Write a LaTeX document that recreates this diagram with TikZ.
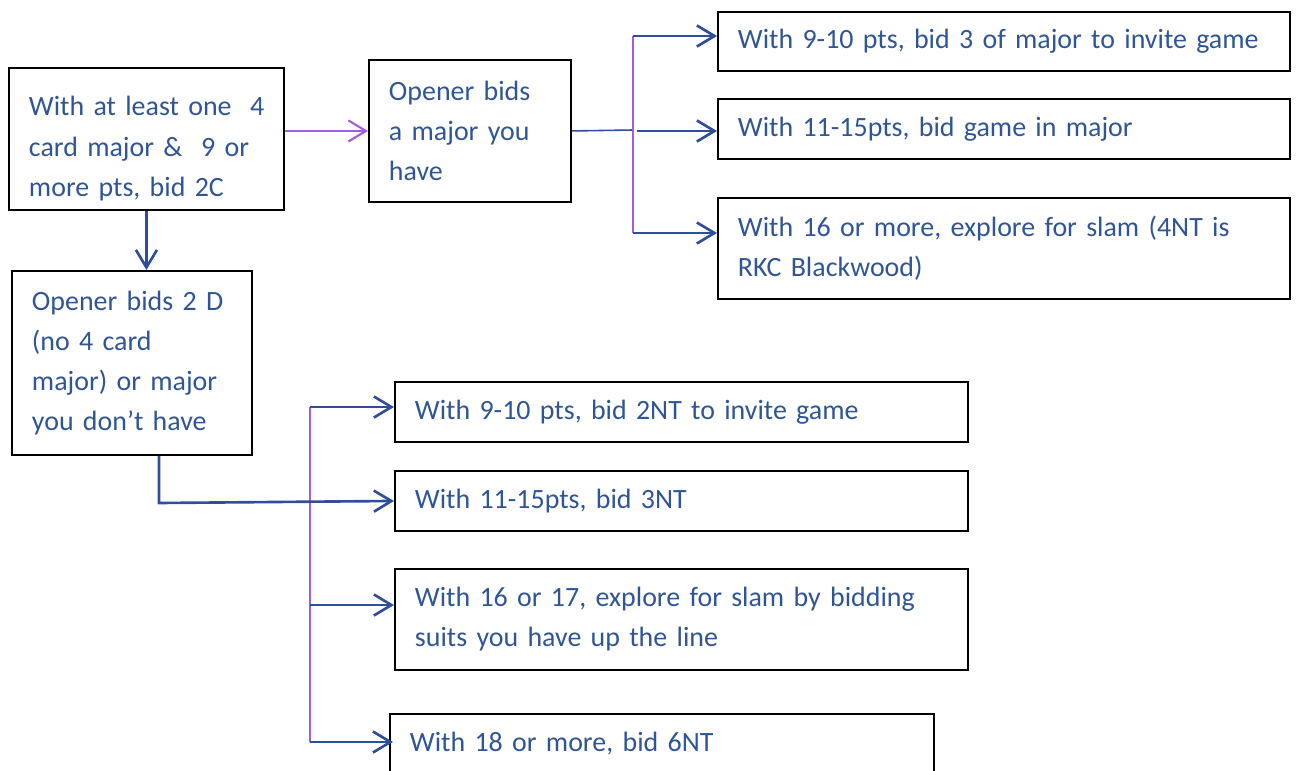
\documentclass[tikz,border=0pt]{standalone}
\usepackage{fontspec}
\setmainfont{Carlito}
\usetikzlibrary{arrows.meta}

\definecolor{ink}{HTML}{2F5597}
\definecolor{wire}{HTML}{2E4D9B}
\definecolor{lilac}{HTML}{A35CE0}

\begin{document}
\begin{tikzpicture}[x=0.02cm,y=-0.02cm,>={Straight Barb[length=10pt,width=12pt]},
  box/.style={draw,line width=1.1pt,anchor=north west,inner xsep=0.4cm,align=left,
    text=ink,font=\fontsize{15.9}{22.8}\selectfont},
  link/.style={draw=wire,line width=1.5pt},
  spine/.style={draw=lilac,line width=1.2pt}]
  \clip (0,0) rectangle (1296,771);

  \node[box,text width=4.7cm,minimum height=2.84cm,text height=0.45cm,text depth=1.37cm]
    (askclub) at (8,67) {\mbox{With at least one\ \ 4}\\\mbox{card major \&\ \ 9 or}\\more pts, bid 2C};
  \node[box,text width=3.24cm,minimum height=2.84cm]
    (majorfit) at (368,59) {Opener bids\\a major you\\have};
  \node[box,text width=10.64cm,minimum height=1.18cm]
    (invite) at (717,11) {With 9-10 pts, bid 3 of major to invite game};
  \node[box,text width=10.64cm,minimum height=1.2cm]
    (majgame) at (717,98) {With 11-15pts, bid game in major};
  \node[box,text width=10.64cm,minimum height=2.02cm]
    (majslam) at (717,197) {With 16 or more, explore for slam (4NT is\\RKC Blackwood)};
  \node[box,text width=4.0cm,minimum height=3.68cm]
    (nofit) at (11,270) {Opener bids 2 D\\(no 4 card\\major) or major\\you don’t have};
  \node[box,text width=10.66cm,minimum height=1.2cm]
    (ntinvite) at (394,381) {With 9-10 pts, bid 2NT to invite game};
  \node[box,text width=10.66cm,minimum height=1.2cm]
    (ntgame) at (394,470) {With 11-15pts, bid 3NT};
  \node[box,text width=10.66cm,minimum height=2.02cm]
    (ntslam) at (394,568) {With 16 or 17, explore for slam by bidding\\suits you have up the line};
  \node[box,text width=10.08cm,minimum height=1.2cm]
    (ntsix) at (389,713) {With 18 or more, bid 6NT};

  \coordinate (fork)  at (633,130);
  \coordinate (fork1) at (633,36);
  \coordinate (fork2) at (637,131);
  \coordinate (fork3) at (633,233);
  \coordinate (bend)  at (159,503);
  \coordinate (tine1) at (310,407);
  \coordinate (tine3) at (310,605);
  \coordinate (tine4) at (310,742);

  \draw[spine,->] (askclub.east |- majorfit.west) -- (majorfit.west);
  \draw[link,line width=0.9pt] (majorfit.east) -- (fork);
  \draw[spine] (fork1) -- (fork3);
  \draw[link,->] (fork1) -- (fork1 -| invite.west);
  \draw[link,->] (fork2) -- (fork2 -| majgame.west);
  \draw[link,->] (fork3) -- (fork3 -| majslam.west);

  \draw[link,->] (askclub.south) -- (askclub.south |- nofit.north);

  \draw[spine] (tine1) -- (tine4);
  \draw[link,->] (bend |- nofit.south) -- (bend) -- (ntgame.west);
  \draw[link,->] (tine1) -- (tine1 -| ntinvite.west);
  \draw[link,->] (tine3) -- (tine3 -| ntslam.west);
  \draw[link,->] (tine4) -- ([xshift=2.3pt]tine4 -| ntsix.west);
\end{tikzpicture}
\end{document}
